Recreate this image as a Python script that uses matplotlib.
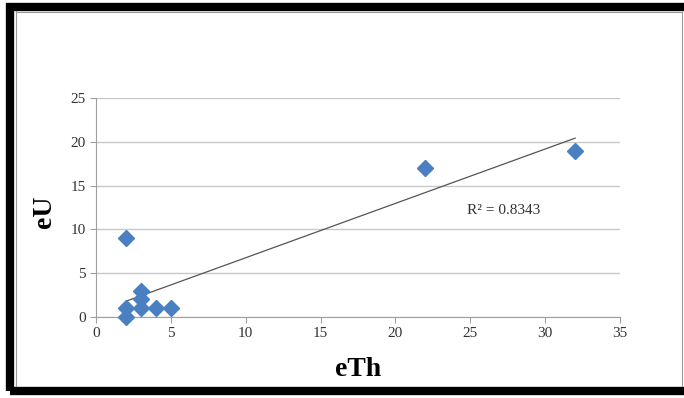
import numpy as np
import matplotlib.pyplot as plt
from matplotlib.patches import Rectangle
from matplotlib.lines import Line2D

plt.rcParams['font.family'] = ['Liberation Serif', 'DejaVu Serif']

# values
eTh = [2, 2, 2, 3, 3, 3, 4, 5, 22, 32]
eU = [9, 1, 0, 3, 2, 1, 1, 1, 17, 19]
r2Label = "R² = 0.8343"
xTicks = [0, 5, 10, 15, 20, 25, 30, 35]
yTicks = [0, 5, 10, 15, 20, 25]

W, H = 684, 398
fig = plt.figure(figsize=(W / 100, H / 100), dpi=100)
ax = fig.add_axes([0.1404, 0.2035, 0.766, 0.5503])

ax.plot(eTh, eU, linestyle='none', marker='D', markersize=7.8,
        color='#4a7fc1', zorder=3, clip_on=False)

# linear trendline over the data range
slope, intercept = np.polyfit(eTh, eU, 1)
xs = np.array([min(eTh), max(eTh)])
ax.plot(xs, slope * xs + intercept, color='#555555', linewidth=0.9, zorder=2)
ax.text(24.8, 12.2, r2Label, fontsize=11, color='#333333', va='center', ha='left')

ax.set_xlim(0, 35)
ax.set_ylim(0, 25)
ax.set_xticks(xTicks)
ax.set_yticks(yTicks)
ax.grid(axis='y', color='#c8c8c8', linewidth=1)
ax.set_axisbelow(True)
for side in ['top', 'right']:
    ax.spines[side].set_visible(False)
for side in ['left', 'bottom']:
    ax.spines[side].set_color('#a0a0a0')
ax.tick_params(colors='#a0a0a0', labelcolor='#333333', labelsize=11, length=4, width=0.8)

# axis titles placed by hand
fig.text(358 / W, 1 - 370 / H, 'eTh', fontsize=20, fontweight='bold', ha='center', va='center')
fig.text(45 / W, 1 - 212 / H, 'eU', fontsize=20, fontweight='bold', ha='center', va='center',
         rotation=90)

# frame round the picture
fig.patches.append(Rectangle((9.5 / W, 7.5 / H), 700 / W, 384 / H, transform=fig.transFigure,
                             fill=False, edgecolor='black', linewidth=6))
fig.lines.append(Line2D([16 / W, 16 / W], [12 / H, 387 / H], transform=fig.transFigure,
                        color='#999999', linewidth=0.8))
fig.lines.append(Line2D([16 / W, 682 / W], [1 - 12 / H, 1 - 12 / H], transform=fig.transFigure,
                        color='#999999', linewidth=0.8))
fig.lines.append(Line2D([682 / W, 682 / W], [12 / H, 1 - 12 / H], transform=fig.transFigure,
                        color='#999999', linewidth=0.8))

fig.savefig('out.png', dpi=100)
